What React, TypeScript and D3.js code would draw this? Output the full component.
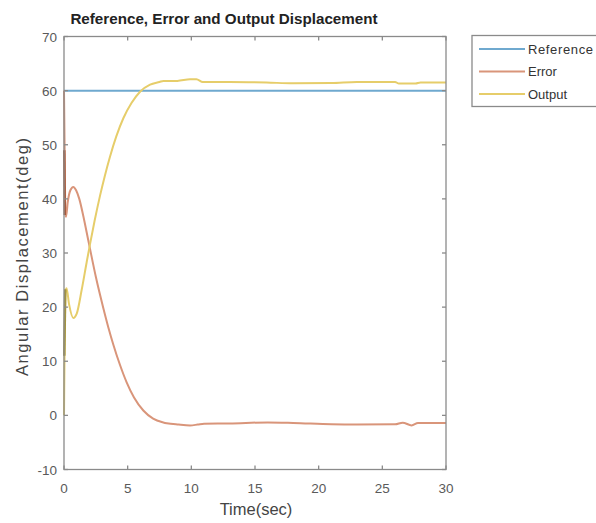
import React, { useEffect, useRef } from 'react';
import * as d3 from 'd3';

// values
const seriesNames = ['Reference', 'Error', 'Output'];
const seriesColors = ['#6fa9cf', '#d9957a', '#e6cd6a'];

const refT = [0, 30];
const refV = [60, 60];

const errT = [0, 0.1, 0.16, 0.3, 0.5, 0.73, 0.95, 1.2, 1.52, 1.91, 2.04, 2.5, 3.09, 3.5, 3.87, 4.4, 4.92, 5.5, 6.23, 7.0, 7.8, 8.07, 9.0, 9.9, 10.5, 11, 13, 16, 18, 21, 23, 26, 26.6, 27.3, 27.8, 30];
const errV = [60, 37.5, 36.7, 39.5, 41.6, 42.2, 41.6, 40.0, 36.8, 32.3, 30.8, 25.6, 19.8, 16.1, 13.1, 9.3, 6.1, 3.3, 0.9, -0.6, -1.3, -1.45, -1.7, -1.85, -1.7, -1.55, -1.5, -1.3, -1.4, -1.65, -1.7, -1.65, -1.35, -1.85, -1.4, -1.4];
// dark band at the very start of the error trace
const errSpikeT = [0.02, 0.06];
const errSpikeV = [49, 37];

const outT = [0, 0.12, 0.2, 0.4, 0.73, 1.0, 1.39, 1.78, 2.04, 2.4, 2.83, 3.2, 3.6, 4.1, 4.66, 5.3, 5.97, 6.76, 7.5, 7.8, 8.9, 9.9, 10.4, 10.9, 13, 15.9, 18, 21, 23, 26, 26.3, 27.6, 28, 30];
const outV = [0, 23.0, 23.5, 20.5, 18.0, 18.8, 23.2, 28.3, 31.6, 35.9, 40.6, 44.2, 47.7, 51.5, 54.9, 57.7, 59.8, 61.1, 61.6, 61.8, 61.8, 62.1, 62.1, 61.6, 61.6, 61.5, 61.35, 61.4, 61.6, 61.6, 61.3, 61.3, 61.5, 61.5];
const outSpikeT = [0.02, 0.1];
const outSpikeV = [11, 23.3];

const xTicks = [0, 5, 10, 15, 20, 25, 30];
const yTicks = [-10, 0, 10, 20, 30, 40, 50, 60, 70];

const W = 596, H = 523;
const plot = { left: 64, right: 446, top: 36.5, bottom: 469.5 };

export default function App() {
  const ref = useRef<SVGSVGElement>(null);

  useEffect(() => {
    const svg = d3.select(ref.current);
    svg.selectAll('*').remove();

    const x = d3.scaleLinear().domain([0, 30]).range([plot.left, plot.right]);
    const y = d3.scaleLinear().domain([-10, 70]).range([plot.bottom, plot.top]);
    const font = 'Liberation Sans, Arial, sans-serif';
    const axisColor = '#8a8a8a';
    const labelColor = '#5a5a5a';

    const g = svg.append('g');

    g.append('rect')
      .attr('x', plot.left).attr('y', plot.top)
      .attr('width', plot.right - plot.left).attr('height', plot.bottom - plot.top)
      .attr('fill', '#fff');

    // lines
    const line = d3.line<[number, number]>().x(d => x(d[0])).y(d => y(d[1])).curve(d3.curveMonotoneX);
    const zip = (ts: number[], vs: number[]) => ts.map((t, i) => [t, vs[i]] as [number, number]);

    const traces = [
      { pts: zip(refT, refV), color: seriesColors[0] },
      { pts: zip(errT, errV), color: seriesColors[1] },
      { pts: zip(outT, outV), color: seriesColors[2] },
    ];
    traces.forEach(tr => {
      g.append('path').attr('d', line(tr.pts)).attr('fill', 'none')
        .attr('stroke', tr.color).attr('stroke-width', 2);
    });
    g.append('path').attr('d', d3.line()(zip(errSpikeT, errSpikeV).map(d => [x(d[0]), y(d[1])] as [number, number])))
      .attr('stroke', '#a55a3c').attr('stroke-width', 2.5).attr('fill', 'none');
    g.append('path').attr('d', d3.line()(zip(outSpikeT, outSpikeV).map(d => [x(d[0]), y(d[1])] as [number, number])))
      .attr('stroke', '#a39440').attr('stroke-width', 2.5).attr('fill', 'none');

    // box
    g.append('rect')
      .attr('x', plot.left).attr('y', plot.top)
      .attr('width', plot.right - plot.left).attr('height', plot.bottom - plot.top)
      .attr('fill', 'none').attr('stroke', axisColor).attr('stroke-width', 1.3);

    // ticks (inward, all four sides)
    const tl = 4;
    xTicks.forEach(t => {
      g.append('line').attr('x1', x(t)).attr('x2', x(t)).attr('y1', plot.bottom).attr('y2', plot.bottom - tl)
        .attr('stroke', axisColor).attr('stroke-width', 1.3);
      g.append('line').attr('x1', x(t)).attr('x2', x(t)).attr('y1', plot.top).attr('y2', plot.top + tl)
        .attr('stroke', axisColor).attr('stroke-width', 1.3);
      g.append('text').attr('x', x(t)).attr('y', plot.bottom + 23)
        .attr('text-anchor', 'middle').attr('font-family', font).attr('font-size', 13.5)
        .attr('fill', labelColor).text(t);
    });
    yTicks.forEach(t => {
      g.append('line').attr('x1', plot.left).attr('x2', plot.left + tl).attr('y1', y(t)).attr('y2', y(t))
        .attr('stroke', axisColor).attr('stroke-width', 1.3);
      g.append('line').attr('x1', plot.right).attr('x2', plot.right - tl).attr('y1', y(t)).attr('y2', y(t))
        .attr('stroke', axisColor).attr('stroke-width', 1.3);
      g.append('text').attr('x', plot.left - 7).attr('y', y(t) + 5)
        .attr('text-anchor', 'end').attr('font-family', font).attr('font-size', 13.5)
        .attr('fill', labelColor).text(t);
    });

    // labels
    svg.append('text').attr('x', 224).attr('y', 23.5).attr('text-anchor', 'middle')
      .attr('font-family', font).attr('font-size', 15.2).attr('font-weight', 'bold')
      .attr('fill', '#222').text('Reference, Error and Output Displacement');
    svg.append('text').attr('x', 256).attr('y', 515).attr('text-anchor', 'middle')
      .attr('font-family', font).attr('font-size', 16.5).attr('fill', '#444').text('Time(sec)');
    svg.append('text').attr('transform', `translate(28, 257) rotate(-90)`)
      .attr('text-anchor', 'middle').attr('font-family', font).attr('font-size', 16.5)
      .attr('textLength', 238).attr('lengthAdjust', 'spacing')
      .attr('fill', '#444').text('Angular Displacement(deg)');

    // legend
    const lg = svg.append('g');
    lg.append('rect').attr('x', 472).attr('y', 35.5).attr('width', 130).attr('height', 71)
      .attr('fill', '#fff').attr('stroke', axisColor).attr('stroke-width', 1.3);
    seriesNames.forEach((name, i) => {
      const yy = 49 + i * 22.5;
      lg.append('line').attr('x1', 479).attr('x2', 525).attr('y1', yy).attr('y2', yy)
        .attr('stroke', seriesColors[i]).attr('stroke-width', 2);
      lg.append('text').attr('x', 528).attr('y', yy + 4.5).attr('font-family', font)
        .attr('font-size', 13).attr('textLength', name === 'Reference' ? 65 : null)
        .attr('fill', '#333').text(name);
    });
  }, []);

  return (
    <svg ref={ref} width={W} height={H} style={{ position: 'absolute', left: 0, top: 0, background: '#fff' }} />
  );
}
